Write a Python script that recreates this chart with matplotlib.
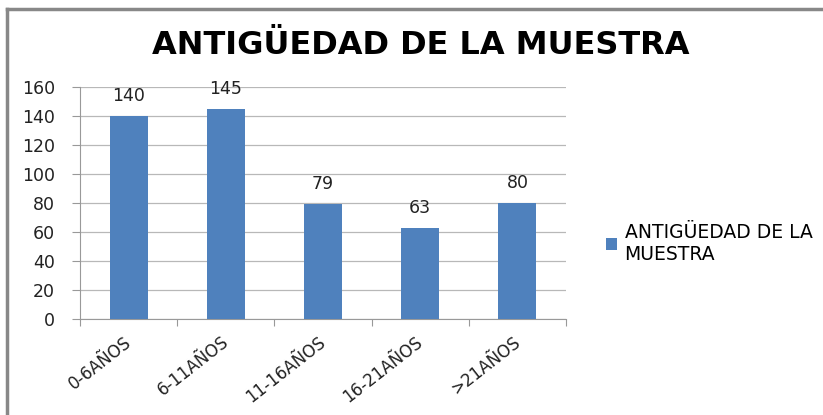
import numpy as np
import matplotlib.pyplot as plt
import matplotlib.transforms as mtransforms
from matplotlib.lines import Line2D

# data
categories = ['0-6AÑOS', '6-11AÑOS', '11-16AÑOS', '16-21AÑOS', '>21AÑOS']
values = [140, 145, 79, 63, 80]
yticks = [0, 20, 40, 60, 80, 100, 120, 140, 160]
series_name = 'ANTIGÜEDAD DE LA\nMUESTRA'
title = 'ANTIGÜEDAD DE LA MUESTRA'

plt.rcParams['font.family'] = ['DejaVu Sans']

fig = plt.figure(figsize=(8.23, 4.15), dpi=100)
ax = fig.add_axes([80/823, 96/415, 486/823, 232/415])

x = np.arange(len(categories))
bars = ax.bar(x, values, width=0.39, color='#4f81bd', zorder=3,
              label=series_name)
for xi, v in zip(x, values):
    ax.annotate(str(v), (xi, v), xytext=(0, 8), textcoords='offset points',
                ha='center', va='bottom', fontsize=12.5, color='#222222')

ax.set_xlim(-0.5, len(categories) - 0.5)
ax.set_ylim(0, 160)
ax.set_yticks(yticks)
ax.tick_params(axis='y', labelsize=12.5, length=6, color='#999999',
               labelcolor='#222222', pad=12)
ax.yaxis.grid(True, color='#b8b8b8', linewidth=0.9, zorder=0)

# category ticks sit on the boundaries, labels at centres
ax.set_xticks(np.arange(len(categories) + 1) - 0.5)
ax.set_xticklabels([])
ax.set_xticks(x, minor=True)
ax.set_xticklabels(categories, minor=True, rotation=38, ha='right',
                   rotation_mode='anchor', fontsize=12, color='#222222')
ax.tick_params(axis='x', which='major', length=5, color='#999999')
ax.tick_params(axis='x', which='minor', length=0, pad=10)
shift = mtransforms.ScaledTranslation(-5/100, 0, fig.dpi_scale_trans)
for lab in ax.get_xticklabels(minor=True):
    lab.set_transform(lab.get_transform() + shift)

for side in ['top', 'right']:
    ax.spines[side].set_visible(False)
for side in ['left', 'bottom']:
    ax.spines[side].set_color('#999999')

fig.text(421/823, 1 - 46/415, title, ha='center', va='center',
         fontsize=23, fontweight='bold', color='black')

fig.legend(handles=bars, labels=[series_name], loc='center left',
           bbox_to_anchor=(589/823, 1 - 243/415), frameon=False,
           fontsize=13.5, handlelength=0.6, handleheight=0.6,
           handletextpad=0.4, labelspacing=0.2)

# chart frame
fig.add_artist(Line2D([7/823, 1], [1 - 9/415, 1 - 9/415], color='#888888',
                      linewidth=2.5, transform=fig.transFigure))
fig.add_artist(Line2D([7/823, 7/823], [0, 1 - 9/415], color='#888888',
                      linewidth=2.5, transform=fig.transFigure))

fig.savefig('out.png', dpi=100)
